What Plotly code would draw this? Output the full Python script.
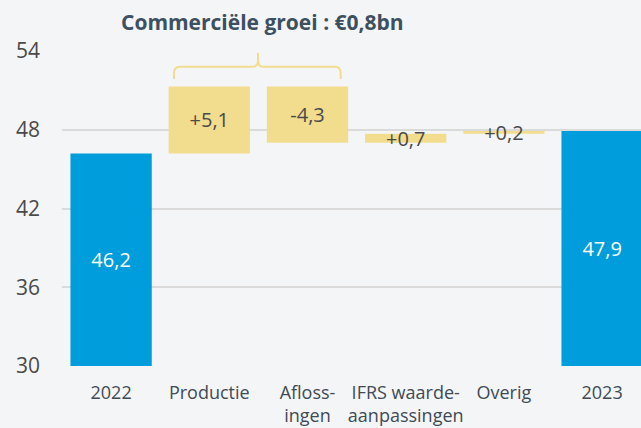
import plotly.graph_objects as go

categories = ["2022", "Productie", "Afloss-<br>ingen", "IFRS waarde-<br>aanpassingen", "Overig", "2023"]
kinds = ["total", "delta", "delta", "delta", "delta", "total"]
values = [46.2, 5.1, -4.3, 0.7, 0.2, 47.9]
labels = ["46,2", "+5,1", "-4,3", "+0,7", "+0,2", "47,9"]
title_text = "Commerciële groei : €0,8bn"
y_ticks = [30, 36, 42, 48, 54]

blue = "#009ddc"
yellow = "#f2dc8e"
bg = "#f4f5f7"
grey_text = "#4a4a4a"

y_min, y_max = y_ticks[0], y_ticks[-1]

# waterfall: totals stand on the axis floor, deltas start at the running sum
bases, heights = [], []
running = 0.0
for k, v in zip(kinds, values):
    if k == "total":
        bases.append(y_min)
        heights.append(v - y_min)
        running = v
    else:
        bases.append(running)
        heights.append(v)
        running += v

colors = [blue if k == "total" else yellow for k in kinds]
text_colors = ["white" if k == "total" else grey_text for k in kinds]

fig = go.Figure(go.Bar(
    x=categories,
    y=heights,
    base=bases,
    marker=dict(color=colors, line=dict(width=0)),
    text=labels,
    textposition="inside",
    insidetextanchor="middle",
    constraintext="none",
    insidetextfont=dict(size=20, family="Open Sans", color=text_colors),
    cliponaxis=False,
    hoverinfo="skip",
))

# brace over Productie + Aflossingen
fig.add_shape(
    type="path",
    path="M 0.64,51.87 L 0.64,52.3 Q 0.64,52.80 0.70,52.80 L 1.44,52.80 "
         "Q 1.496,52.80 1.496,53.3 L 1.496,53.85 L 1.496,53.3 "
         "Q 1.496,52.80 1.55,52.80 L 2.28,52.80 Q 2.338,52.80 2.338,52.3 L 2.338,51.87",
    line=dict(color=yellow, width=2),
    layer="above",
)
fig.add_annotation(
    x=1.544, y=1.0, xref="x", yref="paper", yanchor="middle", yshift=29,
    text="<b>" + title_text + "</b>", showarrow=False,
    font=dict(size=21, color="#3d5060", family="Open Sans"),
)

fig.update_layout(
    width=641, height=428,
    margin=dict(l=62, r=0, t=51, b=62),
    paper_bgcolor=bg, plot_bgcolor=bg,
    showlegend=False,
    bargap=0.172,
    font=dict(family="Open Sans", color=grey_text),
)
fig.update_xaxes(
    range=[-0.5, 5.396], showgrid=False, automargin=False,
    tickfont=dict(size=18, color="#404a55"),
    ticks="", ticklabelstandoff=14,
)
fig.update_yaxes(
    range=[y_min, y_max], tickvals=y_ticks, showgrid=True,
    gridcolor="#dadada", gridwidth=2, zeroline=False, automargin=False,
    tickfont=dict(size=21, color=grey_text), ticklabelstandoff=21,
)

fig.write_html(
    "out.html",
    config={"displayModeBar": False},
    post_script="document.body.style.margin='0';",
)
